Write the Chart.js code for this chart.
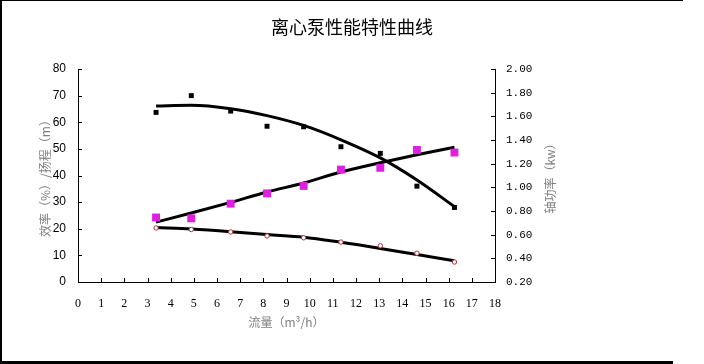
<!DOCTYPE html>
<html>
<head>
<meta charset="utf-8">
<script src="https://cdn.jsdelivr.net/npm/chart.js@4"></script>
<style>
    body { margin: 0; background: #fff; }
    canvas { display: block; }
</style>
</head>
<body>
<canvas id="chart" width="704" height="364"></canvas>
<script>
// flow (m3/h) for each measuring point
var flow = [3.37, 4.89, 6.59, 8.16, 9.74, 11.35, 13.05, 14.63, 16.25];
// efficiency %, left axis
var efficiency = [63.7, 70.0, 64.2, 58.5, 58.3, 50.8, 48.3, 36.0, 28.0];
var efficiencyTrend = [66.1, 66.4, 65.1, 62.5, 58.8, 53.4, 46.6, 38.3, 28.3];
// head m, left axis
var head = [20.3, 19.7, 18.8, 17.3, 16.6, 15.0, 13.6, 10.8, 7.5];
var headTrend = [20.5, 19.9, 18.9, 17.8, 16.8, 14.9, 12.6, 10.3, 8.0];
// shaft power kw, right axis
var power = [0.745, 0.738, 0.862, 0.949, 1.012, 1.150, 1.165, 1.316, 1.294];
var powerTrend = [0.706, 0.783, 0.873, 0.961, 1.037, 1.130, 1.208, 1.275, 1.339];

var title = '离心泵性能特性曲线';
var xTitle = '流量（m³/h）';
var leftTitle = '效率（%）/扬程（m）';
var rightTitle = '轴功率（kw）';

function pts(ys) {
    var out = [];
    for (var i = 0; i < flow.length; i++) {
        out.push({ x: flow[i], y: ys[i] });
    }
    return out;
}

// ticks pointing into the plot, like the excel chart
var innerTicks = {
    id: 'innerTicks',
    afterDraw: function (chart) {
        var ctx = chart.ctx;
        var a = chart.chartArea;
        ctx.save();
        ctx.strokeStyle = '#000';
        ctx.lineWidth = 1;
        ctx.beginPath();
        chart.scales.x.ticks.forEach(function (t) {
            var px = Math.round(chart.scales.x.getPixelForValue(t.value)) + 0.5;
            ctx.moveTo(px, a.bottom);
            ctx.lineTo(px, a.bottom - 4);
        });
        chart.scales.y.ticks.forEach(function (t) {
            var py = Math.round(chart.scales.y.getPixelForValue(t.value)) + 0.5;
            ctx.moveTo(a.left, py);
            ctx.lineTo(a.left + 4, py);
        });
        chart.scales.y1.ticks.forEach(function (t) {
            var py = Math.round(chart.scales.y1.getPixelForValue(t.value)) + 0.5;
            ctx.moveTo(a.right, py);
            ctx.lineTo(a.right - 4, py);
        });
        ctx.stroke();

        // right axis title reads bottom to top
        ctx.translate(550, (a.top + a.bottom) / 2);
        ctx.rotate(-Math.PI / 2);
        ctx.fillStyle = '#7f7f7f';
        ctx.font = '12px "Noto Sans CJK SC"';
        ctx.textAlign = 'center';
        ctx.textBaseline = 'middle';
        ctx.fillText(rightTitle, 0, 0);
        ctx.restore();

        // frame of the picture
        ctx.save();
        ctx.fillStyle = '#000';
        ctx.fillRect(0, 0, 2, 364);
        ctx.fillRect(0, 0, 683, 1);
        ctx.fillRect(0, 361, 673, 3);
        ctx.restore();
    }
};

var chart = new Chart(document.getElementById('chart'), {
    type: 'scatter',
    data: {
        datasets: [
            { data: pts(efficiency), yAxisID: 'y', pointStyle: 'rect', pointRadius: 3.5, backgroundColor: '#000', borderColor: '#000', borderWidth: 0 },
            { data: pts(power), yAxisID: 'y1', pointStyle: 'rect', pointRadius: 5.6, backgroundColor: '#e020e0', borderColor: '#e020e0', borderWidth: 0 },
            { data: pts(head), yAxisID: 'y', pointStyle: 'circle', pointRadius: 2.2, backgroundColor: '#fff', borderColor: '#b03030', borderWidth: 1 },
            { data: pts(efficiencyTrend), yAxisID: 'y', showLine: true, pointRadius: 0, borderColor: '#000', borderWidth: 3, cubicInterpolationMode: 'monotone' },
            { data: pts(powerTrend), yAxisID: 'y1', showLine: true, pointRadius: 0, borderColor: '#000', borderWidth: 3, cubicInterpolationMode: 'monotone' },
            { data: pts(headTrend), yAxisID: 'y', showLine: true, pointRadius: 0, borderColor: '#000', borderWidth: 3, cubicInterpolationMode: 'monotone' }
        ]
    },
    options: {
        responsive: false,
        animation: false,
        layout: { padding: 0 },
        plugins: {
            legend: { display: false },
            tooltip: { enabled: false },
            title: {
                display: true,
                text: title,
                color: '#000',
                font: { family: '"Noto Sans CJK SC"', size: 18, weight: 'normal' },
                padding: { top: 16, bottom: 31.4 }
            }
        },
        scales: {
            x: {
                type: 'linear',
                min: 0, max: 18,
                grid: { display: false, drawTicks: false },
                border: { display: true, color: '#000', width: 1 },
                ticks: { stepSize: 1, padding: 15, color: '#000', font: { family: '"Liberation Serif"', size: 12 } },
                title: { display: true, text: xTitle, color: '#7f7f7f', font: { family: '"Noto Sans CJK SC"', size: 12 }, padding: { top: 0, bottom: 34.8 } },
                afterFit: function (s) { s.height = 82; }
            },
            y: {
                position: 'left',
                min: 0, max: 80,
                grid: { display: false, drawTicks: false },
                border: { display: true, color: '#000', width: 1 },
                ticks: { stepSize: 10, padding: 12, color: '#000', font: { family: '"Liberation Sans"', size: 12 } },
                title: { display: true, text: leftTitle, color: '#7f7f7f', font: { family: '"Noto Sans CJK SC"', size: 12 }, padding: { top: 37.8, bottom: 0 } },
                afterFit: function (s) { s.width = 78; }
            },
            y1: {
                position: 'right',
                min: 0.2, max: 2.0,
                grid: { display: false, drawTicks: false },
                border: { display: true, color: '#000', width: 1 },
                ticks: {
                    stepSize: 0.2, padding: 11, color: '#000', font: { family: '"Liberation Mono"', size: 11 },
                    callback: function (v) { return v.toFixed(2); }
                },
                afterFit: function (s) { s.width = 209; }
            }
        }
    },
    plugins: [innerTicks]
});
</script>
</body>
</html>
